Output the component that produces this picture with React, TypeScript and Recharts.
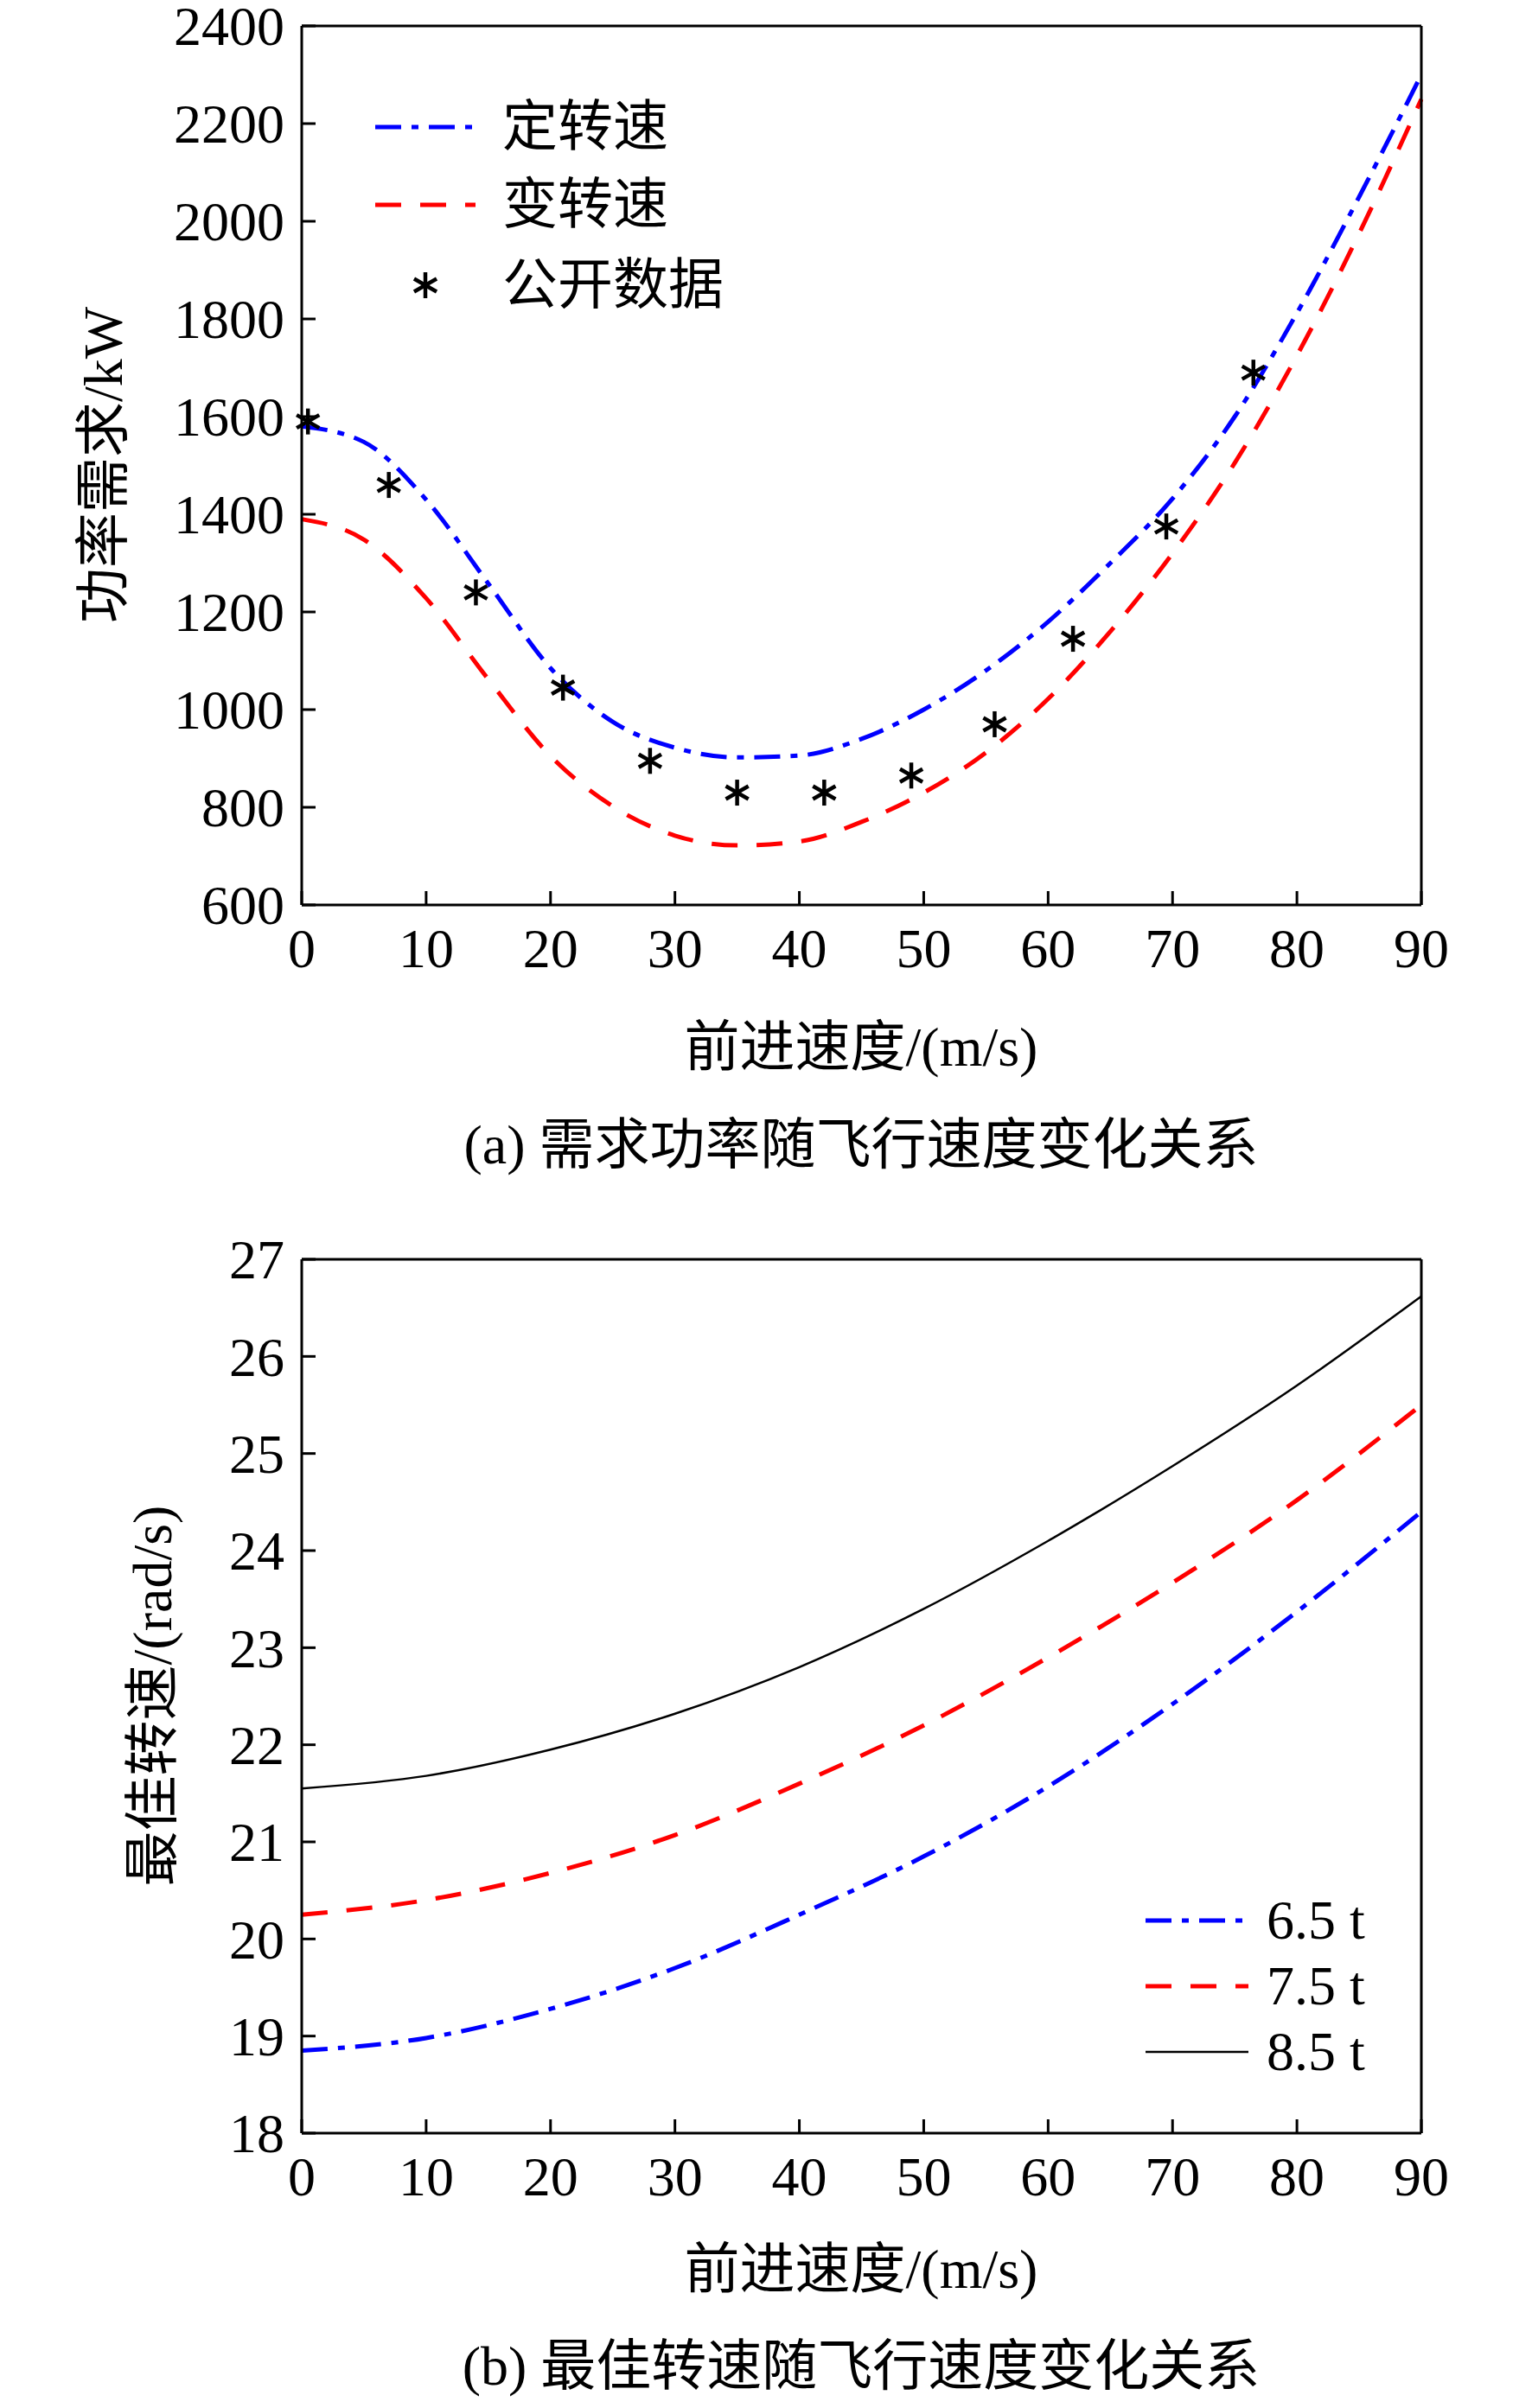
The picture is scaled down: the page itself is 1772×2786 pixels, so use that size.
import React from "react";
import { LineChart, Line, XAxis, YAxis } from "recharts";

const speedsA = [0, 5, 10, 15, 20, 25, 30, 35, 40, 45, 50, 55, 60, 65, 70, 75, 80, 85, 90];
const fixedRpm = [1580, 1548, 1430, 1258, 1085, 975, 922, 902, 906, 940, 1000, 1080, 1180, 1300, 1432, 1600, 1812, 2050, 2300];
const variableRpm = [1390, 1348, 1228, 1062, 905, 802, 742, 722, 730, 770, 830, 912, 1022, 1160, 1320, 1505, 1725, 1975, 2250];
const publicX = [0.5, 7, 14, 21, 28, 35, 42, 49, 55.7, 62, 69.5, 76.5];
const publicY = [1590, 1460, 1240, 1045, 895, 830, 830, 865, 970, 1145, 1375, 1690];

const speedsB = [0, 10, 20, 30, 40, 50, 60, 70, 80, 90];
const rpm65 = [18.85, 18.98, 19.28, 19.7, 20.25, 20.85, 21.57, 22.42, 23.37, 24.4];
const rpm75 = [20.25, 20.4, 20.68, 21.07, 21.6, 22.2, 22.9, 23.67, 24.52, 25.5];
const rpm85 = [21.55, 21.68, 21.95, 22.32, 22.8, 23.4, 24.1, 24.87, 25.7, 26.62];

const xTicks = [0, 10, 20, 30, 40, 50, 60, 70, 80, 90];
const yTicksA = [600, 800, 1000, 1200, 1400, 1600, 1800, 2000, 2200, 2400];
const yTicksB = [18, 19, 20, 21, 22, 23, 24, 25, 26, 27];

const FONT = "'Liberation Serif', 'Noto Sans CJK SC', serif";
const FS = 64;
const TL = 16;

const zip = (xs: number[], ys: number[]) => xs.map((x, i) => ({ x, y: ys[i] }));
const dataA1 = zip(speedsA, fixedRpm);
const dataA2 = zip(speedsA, variableRpm);
const dataStars = zip(publicX, publicY);
const dataB1 = zip(speedsB, rpm65);
const dataB2 = zip(speedsB, rpm75);
const dataB3 = zip(speedsB, rpm85);

const tick = (side: string) => (props: any) => {
  const { x, y, payload } = props;
  const ln = { stroke: "#000", strokeWidth: 3 };
  if (side === "left")
    return (
      <g>
        <line x1={x} y1={y} x2={x + TL} y2={y} {...ln} />
        <text x={x - 20} y={y} dy="0.35em" textAnchor="end" fontSize={FS} fontFamily={FONT}>{payload.value}</text>
      </g>
    );
  if (side === "right") return <line x1={x} y1={y} x2={x - TL} y2={y} {...ln} />;
  if (side === "bottom")
    return (
      <g>
        <line x1={x} y1={y} x2={x} y2={y - TL} {...ln} />
        <text x={x} y={y + 72} textAnchor="middle" fontSize={FS} fontFamily={FONT}>{payload.value}</text>
      </g>
    );
  return <line x1={x} y1={y} x2={x} y2={y + TL} {...ln} />;
};

const Star = (props: any) => {
  const { cx, cy } = props;
  if (cx == null) return null;
  const r = 15;
  const s = { stroke: "#000", strokeWidth: 4.5 };
  return (
    <g>
      <line x1={cx} y1={cy - r} x2={cx} y2={cy + r} {...s} />
      <line x1={cx - r * 0.87} y1={cy - r / 2} x2={cx + r * 0.87} y2={cy + r / 2} {...s} />
      <line x1={cx - r * 0.87} y1={cy + r / 2} x2={cx + r * 0.87} y2={cy - r / 2} {...s} />
    </g>
  );
};

const axes = (yDomain: number[], yTicks: number[]) => {
  const ax = { stroke: "#000", strokeWidth: 3 };
  return [
    <XAxis key="xb" xAxisId="b" dataKey="x" type="number" domain={[0, 90]} ticks={xTicks} height={1} tickSize={0} tickMargin={0} axisLine={ax} tickLine={false} tick={tick("bottom")} interval={0} />,
    <XAxis key="xt" xAxisId="t" orientation="top" dataKey="x" type="number" domain={[0, 90]} ticks={xTicks} height={1} tickSize={0} tickMargin={0} axisLine={ax} tickLine={false} tick={tick("top")} interval={0} />,
    <YAxis key="yl" yAxisId="l" type="number" domain={yDomain} ticks={yTicks} width={1} tickSize={0} tickMargin={0} axisLine={ax} tickLine={false} tick={tick("left")} interval={0} />,
    <YAxis key="yr" yAxisId="r" orientation="right" type="number" domain={yDomain} ticks={yTicks} width={1} tickSize={0} tickMargin={0} axisLine={ax} tickLine={false} tick={tick("right")} interval={0} />,
  ];
};

const blueStyle = { stroke: "#0000ff", strokeWidth: 5, strokeDasharray: "30 12 8 12" };
const redStyle = { stroke: "#ff0000", strokeWidth: 5, strokeDasharray: "30 22" };
const blackStyle = { stroke: "#000", strokeWidth: 2.5 };

const Txt: React.FC<{ x: number; y: number; children: React.ReactNode; rotate?: boolean; center?: boolean }> = ({ x, y, children, rotate, center }) => (
  <div
    style={{
      position: "absolute",
      left: x,
      top: y,
      fontFamily: FONT,
      fontSize: FS,
      lineHeight: 1,
      whiteSpace: "nowrap",
      transform: rotate ? "translate(-50%, -50%) rotate(-90deg)" : center ? "translate(-50%, -50%)" : "translateY(-50%)",
    }}
  >
    {children}
  </div>
);

const LegendLine: React.FC<{ x: number; y: number; w: number; style: any }> = ({ x, y, w, style }) => (
  <svg style={{ position: "absolute", left: x, top: y - 10 }} width={w} height={20}>
    <line x1={0} y1={10} x2={w} y2={10} {...style} />
  </svg>
);

export default function App() {
  return (
    <div style={{ position: "absolute", left: 0, top: 0, width: 1772, height: 2786, background: "#fff", overflow: "hidden" }}>
      <div style={{ position: "absolute", left: 0, top: 0 }}>
        <LineChart width={1772} height={1240} margin={{ top: 29, right: 127, left: 348, bottom: 192 }}>
          {axes([600, 2400], yTicksA)}
          <Line data={dataA1} xAxisId="b" yAxisId="l" dataKey="y" type="monotone" dot={false} isAnimationActive={false} {...blueStyle} />
          <Line data={dataA2} xAxisId="b" yAxisId="l" dataKey="y" type="monotone" dot={false} isAnimationActive={false} {...redStyle} />
          <Line data={dataStars} xAxisId="b" yAxisId="l" dataKey="y" stroke="none" dot={<Star />} isAnimationActive={false} />
        </LineChart>
      </div>
      <div style={{ position: "absolute", left: 0, top: 1300 }}>
        <LineChart width={1772} height={1300} margin={{ top: 156, right: 127, left: 348, bottom: 131 }}>
          {axes([18, 27], yTicksB)}
          <Line data={dataB3} xAxisId="b" yAxisId="l" dataKey="y" type="monotone" dot={false} isAnimationActive={false} {...blackStyle} />
          <Line data={dataB2} xAxisId="b" yAxisId="l" dataKey="y" type="monotone" dot={false} isAnimationActive={false} {...redStyle} />
          <Line data={dataB1} xAxisId="b" yAxisId="l" dataKey="y" type="monotone" dot={false} isAnimationActive={false} {...blueStyle} />
        </LineChart>
      </div>

      <LegendLine x={434} y={147} w={116} style={blueStyle} />
      <Txt x={581} y={147}>定转速</Txt>
      <LegendLine x={434} y={237} w={116} style={redStyle} />
      <Txt x={581} y={237}>变转速</Txt>
      <svg style={{ position: "absolute", left: 472, top: 310 }} width={40} height={40}>
        <Star cx={20} cy={20} />
      </svg>
      <Txt x={581} y={330}>公开数据</Txt>

      <LegendLine x={1325} y={2222} w={119} style={blueStyle} />
      <Txt x={1465} y={2222}>6.5 t</Txt>
      <LegendLine x={1325} y={2298} w={119} style={redStyle} />
      <Txt x={1465} y={2298}>7.5 t</Txt>
      <LegendLine x={1325} y={2374} w={119} style={blackStyle} />
      <Txt x={1465} y={2374}>8.5 t</Txt>

      <Txt x={120} y={538} rotate>功率需求/kW</Txt>
      <Txt x={996} y={1212} center>前进速度/(m/s)</Txt>
      <Txt x={996} y={1325} center>(a) 需求功率随飞行速度变化关系</Txt>

      <Txt x={177} y={1962} rotate>最佳转速/(rad/s)</Txt>
      <Txt x={996} y={2626} center>前进速度/(m/s)</Txt>
      <Txt x={996} y={2738} center>(b) 最佳转速随飞行速度变化关系</Txt>
    </div>
  );
}
